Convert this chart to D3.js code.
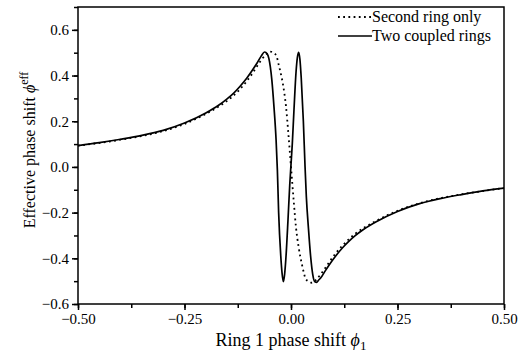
<!DOCTYPE html>
<html><head><meta charset="utf-8">
<script src="https://cdn.jsdelivr.net/npm/d3@7"></script>
<style>body{margin:0;background:#fff}svg{display:block}text{font-family:"Liberation Serif","Times New Roman",serif;fill:#000}</style>
</head><body><svg id="c" width="527" height="356"></svg>
<script>
const seriesNames = ["Second ring only", "Two coupled rings"];
const xTicks = [-0.5, -0.25, 0, 0.25, 0.5];
const yTicks = [-0.6, -0.4, -0.2, 0.0, 0.2, 0.4, 0.6];
const coupledX = [-0.50,-0.45,-0.40,-0.35,-0.30,-0.25,-0.20,-0.17,-0.15,-0.135,-0.12,-0.104,-0.090,-0.080,-0.070,-0.062,-0.056,-0.052,-0.045,-0.040,-0.035,-0.032,-0.029,-0.024,-0.021,-0.018,-0.015,-0.012,-0.007,-0.003,0.000,0.003,0.007,0.012,0.015,0.018,0.021,0.024,0.029,0.033,0.036,0.041,0.046,0.051,0.056,0.060,0.065,0.070,0.080,0.090,0.104,0.12,0.135,0.15,0.17,0.20,0.25,0.30,0.35,0.40,0.45,0.50];
const coupledY = [0.093,0.106,0.121,0.138,0.160,0.192,0.236,0.270,0.298,0.322,0.352,0.388,0.425,0.454,0.485,0.503,0.495,0.475,0.381,0.264,0.118,-0.013,-0.200,-0.390,-0.465,-0.502,-0.470,-0.400,-0.230,-0.080,0.010,0.100,0.250,0.420,0.480,0.502,0.470,0.390,0.200,0.000,-0.130,-0.270,-0.390,-0.470,-0.503,-0.505,-0.495,-0.485,-0.456,-0.428,-0.392,-0.356,-0.327,-0.302,-0.274,-0.240,-0.195,-0.162,-0.139,-0.121,-0.105,-0.093];
const secondX = [-0.50,-0.40,-0.30,-0.25,-0.20,-0.17,-0.15,-0.135,-0.12,-0.104,-0.09,-0.08,-0.069,-0.058,-0.049,-0.040,-0.034,-0.030,-0.026,-0.018,-0.0117,-0.0063,0.0,0.0063,0.0117,0.018,0.026,0.030,0.034,0.040,0.049,0.058,0.069,0.08,0.09,0.104,0.12,0.135,0.15,0.17,0.20,0.25,0.30,0.40,0.50];
const secondY = [0.093,0.119,0.157,0.188,0.232,0.264,0.289,0.312,0.340,0.375,0.411,0.440,0.470,0.494,0.505,0.498,0.486,0.456,0.425,0.352,0.264,0.148,0.0,-0.148,-0.264,-0.352,-0.430,-0.462,-0.488,-0.500,-0.507,-0.496,-0.472,-0.444,-0.416,-0.380,-0.346,-0.318,-0.294,-0.268,-0.236,-0.192,-0.160,-0.120,-0.093];

const svg = d3.select("#c");
const L = 78, R = 504, T = 7, B = 304;
const x = d3.scaleLinear().domain([-0.5, 0.5]).range([L, R]);
const y = d3.scaleLinear().domain([-0.6, 0.7]).range([B, T]);

const line = d3.line().x(d => x(d[0])).y(d => y(d[1])).curve(d3.curveMonotoneX);
const second = secondX.map((v, i) => [v, secondY[i]]);
const coupled = coupledX.map((v, i) => [v, coupledY[i]]);

svg.append("path").attr("d", line(second)).attr("fill", "none").attr("stroke", "#000")
  .attr("stroke-width", 1.8).attr("stroke-dasharray", "1.8,3.4");
svg.append("path").attr("d", line(coupled)).attr("fill", "none").attr("stroke", "#000")
  .attr("stroke-width", 1.7);

// frame
svg.append("rect").attr("x", L).attr("y", T).attr("width", R - L).attr("height", B - T)
  .attr("fill", "none").attr("stroke", "#000").attr("stroke-width", 1.5);

// axes
const xMinor = d3.range(-0.5, 0.5001, 0.125);
const xa = svg.append("g").attr("transform", `translate(0,${B})`)
  .call(d3.axisBottom(x).tickValues(xMinor).tickSize(4).tickFormat(""));
xa.select(".domain").remove();
const xb = svg.append("g").attr("transform", `translate(0,${B})`)
  .call(d3.axisBottom(x).tickValues(xTicks).tickSize(6).tickPadding(3).tickFormat(d3.format(".2f")));
xb.select(".domain").remove();
const yMinor = d3.range(-0.6, 0.7001, 0.1);
const ya = svg.append("g").attr("transform", `translate(${L},0)`)
  .call(d3.axisLeft(y).tickValues(yMinor).tickSize(4).tickFormat(""));
ya.select(".domain").remove();
const yb = svg.append("g").attr("transform", `translate(${L},0)`)
  .call(d3.axisLeft(y).tickValues(yTicks).tickSize(6).tickPadding(3).tickFormat(d3.format(".1f")));
yb.select(".domain").remove();
svg.selectAll(".tick line").attr("stroke-width", 1.5);
svg.selectAll(".tick text").style("font-family", "Liberation Serif").style("font-size", "15px").attr("fill", "#000");

// axis titles
const xt = svg.append("text").attr("x", x(0)).attr("y", 346).attr("text-anchor", "middle").style("font-size", "18px");
xt.append("tspan").text("Ring 1 phase shift ");
xt.append("tspan").style("font-style", "italic").text("\u03D5");
xt.append("tspan").attr("dy", 4).style("font-size", "13px").text("1");

const yt = svg.append("text").attr("transform", `translate(35,150) rotate(-90)`)
  .attr("text-anchor", "middle").style("font-size", "16px");
yt.append("tspan").text("Effective phase shift ");
yt.append("tspan").style("font-style", "italic").text("\u03D5");
yt.append("tspan").attr("dy", -7).style("font-size", "12px").text("eff");

// legend
const lg = svg.append("g");
const legY = [17, 36];
lg.append("line").attr("x1", 338).attr("x2", 371).attr("y1", legY[0]).attr("y2", legY[0])
  .attr("stroke", "#000").attr("stroke-width", 1.8).attr("stroke-dasharray", "1.8,3.4");
lg.append("line").attr("x1", 338).attr("x2", 372).attr("y1", legY[1]).attr("y2", legY[1])
  .attr("stroke", "#000").attr("stroke-width", 1.7);
seriesNames.forEach((n, i) => {
  lg.append("text").attr("x", 372).attr("y", legY[i] + 5).style("font-size", "16px").text(n);
});
</script></body></html>
